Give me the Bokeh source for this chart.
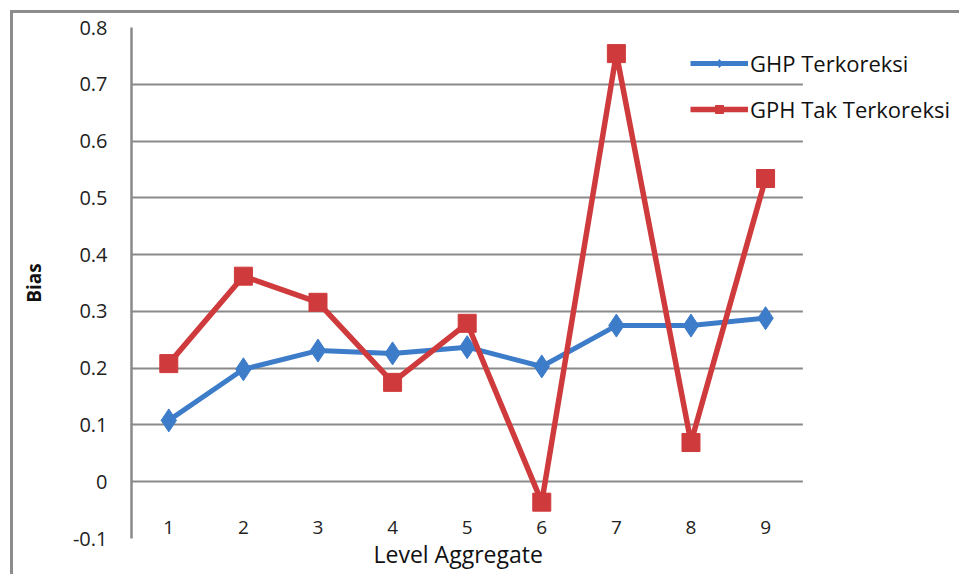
from bokeh.plotting import figure
from bokeh.models import Range1d, FixedTicker, Legend, LegendItem, BoxAnnotation, Title
from bokeh.embed import file_html
from bokeh.resources import INLINE

# ---- data ----
levels = [1, 2, 3, 4, 5, 6, 7, 8, 9]
ghp_terkoreksi = [0.108, 0.198, 0.231, 0.226, 0.237, 0.203, 0.275, 0.275, 0.288]
gph_tak_terkoreksi = [0.208, 0.362, 0.316, 0.175, 0.279, -0.036, 0.754, 0.069, 0.534]
series_names = ["GHP Terkoreksi", "GPH Tak Terkoreksi"]
y_ticks = [-0.1, 0.0, 0.1, 0.2, 0.3, 0.4, 0.5, 0.6, 0.7, 0.8]
y_tick_labels = ["-0.1", "0", "0.1", "0.2", "0.3", "0.4", "0.5", "0.6", "0.7", "0.8"]
x_title = "Level Aggregate"
y_title = "Bias"

FONT = "Open Sans"
BLUE = "#3d7cc9"
RED = "#cf3a3c"
GRID = "#8a8a8a"

# category area spans 0.5..9.5; the extra room on the right holds the legend
X_START, X_END_CAT, X_END = 0.5, 9.5, 11.64

p = figure(
    width=949, height=564,
    margin=(10, 0, 0, 10),
    styles={"border-top": "3px solid #8c8c8c", "border-left": "3px solid #8c8c8c"},
    output_backend="svg", toolbar_location=None,
    x_range=Range1d(X_START, X_END), y_range=Range1d(-0.1, 0.8),
    min_border_left=118, min_border_top=14, min_border_right=0, min_border_bottom=39,
)
p.outline_line_color = None
p.background_fill_color = "white"
p.border_fill_color = "white"

# y axis
p.yaxis.ticker = FixedTicker(ticks=y_ticks)
p.yaxis.major_label_overrides = dict(zip(y_ticks, y_tick_labels))
p.yaxis.major_tick_line_color = None
p.yaxis.minor_tick_line_color = None
p.yaxis.major_tick_out = 0
p.yaxis.minor_tick_out = 0
p.yaxis.axis_line_color = GRID
p.yaxis.axis_line_width = 2.5
p.yaxis.major_label_text_font = FONT
p.yaxis.major_label_text_font_size = "20px"
p.yaxis.major_label_text_color = "#222222"
p.yaxis.major_label_standoff = 24
p.yaxis.axis_label = y_title
p.yaxis.axis_label_text_font = FONT
p.yaxis.axis_label_text_font_style = "bold"
p.yaxis.axis_label_text_font_size = "19px"
p.yaxis.axis_label_text_color = "#111111"
p.yaxis.axis_label_standoff = 23

# x axis (tick labels sit just above the -0.1 line, inside the plot area)
p.xaxis.ticker = FixedTicker(ticks=levels)
p.xaxis.major_tick_line_color = None
p.xaxis.minor_tick_line_color = None
p.xaxis.major_tick_out = 0
p.xaxis.minor_tick_out = 0
p.xaxis.axis_line_color = None
p.xaxis.major_label_text_font = FONT
p.xaxis.major_label_text_font_size = "19px"
p.xaxis.major_label_text_color = "#222222"
p.xaxis.major_label_standoff = -18

# x axis title, centred under the category area
p.add_layout(Title(text=x_title, align="left", offset=242, standoff=-5,
                   text_font=FONT, text_font_style="normal", text_font_size="23px",
                   text_color="#111111"), "below")

p.xgrid.grid_line_color = None
p.ygrid.ticker = FixedTicker(ticks=y_ticks)
p.ygrid.grid_line_color = GRID
p.ygrid.grid_line_width = 2

# blank out the gridlines beyond the category area (legend zone)
p.add_layout(BoxAnnotation(left=X_END_CAT, fill_color="white", fill_alpha=1,
                           line_color=None, level="underlay"))

# series
l1 = p.line(levels, ghp_terkoreksi, line_color=BLUE, line_width=5)
m1 = p.scatter(levels, ghp_terkoreksi, marker="diamond", size=23,
               fill_color=BLUE, line_color=BLUE)
l2 = p.line(levels, gph_tak_terkoreksi, line_color=RED, line_width=5.5)
m2 = p.scatter(levels, gph_tak_terkoreksi, marker="square", size=18,
               fill_color=RED, line_color=RED)

legend = Legend(
    items=[LegendItem(label=series_names[0], renderers=[l1, m1]),
           LegendItem(label=series_names[1], renderers=[l2, m2])],
    location=(559, 414),
    background_fill_alpha=0, border_line_color=None,
    padding=0, margin=0, spacing=16,
    glyph_width=58, glyph_height=20, label_height=20, label_standoff=2,
    label_text_font=FONT, label_text_font_size="22px", label_text_color="#111111",
)
p.add_layout(legend, "center")

open("out.html", "w").write(file_html(p, INLINE))
